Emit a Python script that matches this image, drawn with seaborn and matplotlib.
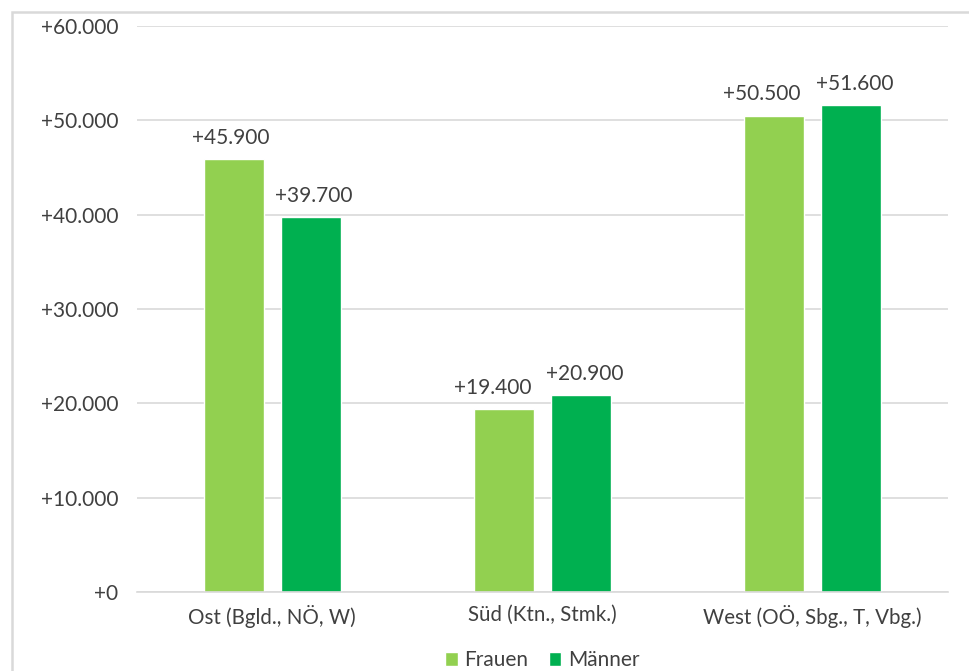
import matplotlib
matplotlib.use("Agg")
import matplotlib.pyplot as plt
import seaborn as sns
import pandas as pd
from matplotlib.patches import Rectangle
from matplotlib.ticker import FuncFormatter, MultipleLocator

regions = ["Ost (Bgld., NÖ, W)", "Süd (Ktn., Stmk.)", "West (OÖ, Sbg., T, Vbg.)"]
frauen = [45900, 19400, 50500]
maenner = [39700, 20900, 51600]
series = ["Frauen", "Männer"]
colors = ["#92D050", "#00B050"]

df = pd.DataFrame({
    "Region": regions * 2,
    "Wert": frauen + maenner,
    "Geschlecht": [series[0]] * 3 + [series[1]] * 3,
})

sns.set_theme(style="white")
plt.rcParams['font.family'] = ['Lato', 'DejaVu Sans']
txt = "#404040"

fig = plt.figure(figsize=(9.7, 6.71), dpi=100)
ax = fig.add_axes([0.1412, 0.1177, 0.977 - 0.1412, 0.9613 - 0.1177])

sns.barplot(data=df, x="Region", y="Wert", hue="Geschlecht", palette=colors,
            width=0.57, gap=0.22, ax=ax, saturation=1, legend=True)

def fmt(v, pos=None):
    s = f"{int(round(v)):,}".replace(",", ".")
    return "+" + s

ax.set_ylim(0, 60000)
ax.yaxis.set_major_locator(MultipleLocator(10000))
ax.yaxis.set_major_formatter(FuncFormatter(fmt))
ax.grid(axis="y", color="#D9D9D9", linewidth=1.2)
ax.set_axisbelow(True)
for s in ["top", "right", "left"]:
    ax.spines[s].set_visible(False)
ax.spines["bottom"].set_color("#D9D9D9")
ax.spines["bottom"].set_linewidth(1.2)
ax.set_xlabel("")
ax.set_ylabel("")
ax.tick_params(axis="both", length=0, labelcolor=txt)
ax.tick_params(axis="y", pad=13.5, labelsize=15)
ax.tick_params(axis="x", pad=9, labelsize=14.8)

# label nudges (points) so neighbouring labels do not touch, as in the original
nudge = [[-2, -8, -9], [2.5, 2.5, 2.5]]
for ci, cont in enumerate(ax.containers):
    for bi, bar in enumerate(cont):
        ax.annotate(fmt(bar.get_height()),
                    (bar.get_x() + bar.get_width() / 2, bar.get_height()),
                    xytext=(nudge[ci][bi], 8), textcoords="offset points",
                    ha="center", va="bottom", fontsize=15, color=txt)

ax.legend(loc="upper center", bbox_to_anchor=(0.5, -0.07), ncol=2, frameon=False,
          fontsize=15, handlelength=0.6, handleheight=0.6, handletextpad=0.3,
          columnspacing=1.0, labelcolor=txt)

fig.patches.append(Rectangle((12 / 970, -0.1), 1.2, 1 - 12 / 671 + 0.1,
                             transform=fig.transFigure, fill=False,
                             edgecolor="#D9D9D9", linewidth=1.8))

fig.savefig("out.png", dpi=100)
